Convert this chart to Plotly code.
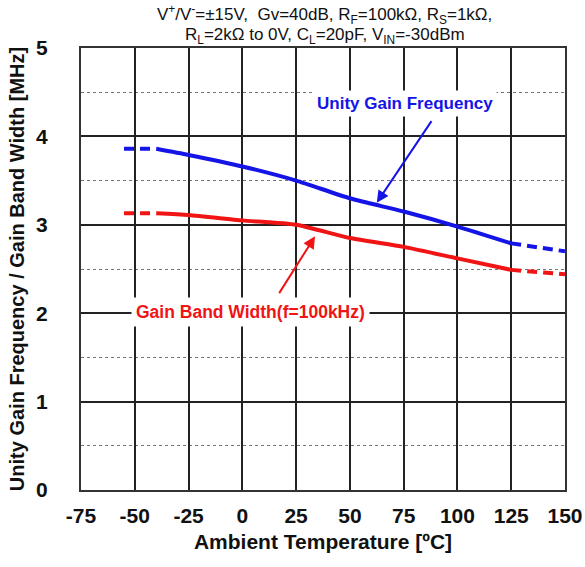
import plotly.graph_objects as go

temps = [-55, -40, -25, 0, 25, 50, 75, 100, 125, 150]
ugf = [3.86, 3.86, 3.79, 3.66, 3.50, 3.30, 3.15, 2.98, 2.79, 2.70]
gbw = [3.13, 3.13, 3.11, 3.05, 3.00, 2.85, 2.75, 2.62, 2.49, 2.44]
x_ticks = [-75, -50, -25, 0, 25, 50, 75, 100, 125, 150]
y_ticks = [0, 1, 2, 3, 4, 5]

BLUE = "#1414e6"
RED = "#f01414"
FONT = "Liberation Sans, Arial, sans-serif"

fig = go.Figure()

def add_series(vals, color):
    segs = [(0, 2, "10px,6px"), (1, 9, "solid"), (8, 10, "10px,6px")]
    for a, b, dash in segs:
        fig.add_trace(go.Scatter(
            x=temps[a:b], y=vals[a:b], mode="lines",
            line=dict(color=color, width=4, dash=dash, shape="spline", smoothing=0.6),
            showlegend=False, hoverinfo="skip"))

add_series(ugf, BLUE)
add_series(gbw, RED)

fig.update_layout(
    width=585, height=567,
    margin=dict(l=81, r=20, t=48, b=77),
    paper_bgcolor="white", plot_bgcolor="white",
    font=dict(family=FONT, color="#111"),
    xaxis=dict(
        range=[-75, 150], tickvals=x_ticks, ticktext=[str(v) for v in x_ticks],
        showgrid=True, gridcolor="#222", gridwidth=1.5,
        showline=True, linecolor="#333", linewidth=2, mirror=True,
        zeroline=False, ticks="", ticklabelstandoff=6, automargin=False,
        tickfont=dict(family=FONT, size=21, color="#111", weight="bold"),
        title=dict(text="<b>Ambient Temperature [ºC]</b>", font=dict(family=FONT, size=21, color="#111"), standoff=8),
    ),
    yaxis=dict(
        range=[0, 5], tickvals=y_ticks,
        showgrid=True, gridcolor="#222", gridwidth=1.5,
        showline=True, linecolor="#333", linewidth=2, mirror=True,
        zeroline=False, ticks="", ticklabelstandoff=27, automargin=False,
        tickfont=dict(family=FONT, size=21, color="#111", weight="bold"),
        title=dict(text="<b>Unity Gain Frequency / Gain Band Width [MHz]</b>", font=dict(family=FONT, size=20, color="#111"), standoff=6),
        minor=dict(dtick=0.5, showgrid=True, gridcolor="#777", griddash="dot", gridwidth=1),
    ),
)

fig.add_annotation(
    x=0.504, y=1.0, xref="paper", yref="paper", yanchor="bottom", yshift=19,
    xanchor="center", showarrow=False,
    text="V<sup>+</sup>/V<sup>-</sup>=±15V,  Gv=40dB, R<sub>F</sub>=100kΩ, R<sub>S</sub>=1kΩ,",
    font=dict(family=FONT, size=17, color="#111"))
fig.add_annotation(
    x=0.504, y=1.0, xref="paper", yref="paper", yanchor="bottom", yshift=-1,
    xanchor="center", showarrow=False,
    text="R<sub>L</sub>=2kΩ to 0V, C<sub>L</sub>=20pF, V<sub>IN</sub>=-30dBm",
    font=dict(family=FONT, size=17, color="#111"))

# Callout labels
fig.add_annotation(
    x=75.5, y=4.37, text="<b>Unity Gain Frequency</b>", showarrow=False,
    font=dict(family=FONT, size=17, color=BLUE), bgcolor="white", borderpad=3)
fig.add_annotation(
    x=3.7, y=2.01, text="<b>Gain Band Width(f=100kHz)</b>", showarrow=False,
    font=dict(family=FONT, size=17.5, color=RED), bgcolor="white", borderpad=4)

# Callout arrows
fig.add_annotation(
    x=62.5, y=3.25, ax=88.4, ay=4.19, axref="x", ayref="y", text="",
    showarrow=True, arrowhead=2, arrowsize=1.2, arrowwidth=2, arrowcolor=BLUE)
fig.add_annotation(
    x=33.8, y=2.87, ax=16.7, ay=2.21, axref="x", ayref="y", text="",
    showarrow=True, arrowhead=2, arrowsize=1.2, arrowwidth=2, arrowcolor=RED)

fig.write_html("out.html", config={"displayModeBar": False},
               post_script="document.body.style.margin='0';document.body.style.overflow='hidden';")
